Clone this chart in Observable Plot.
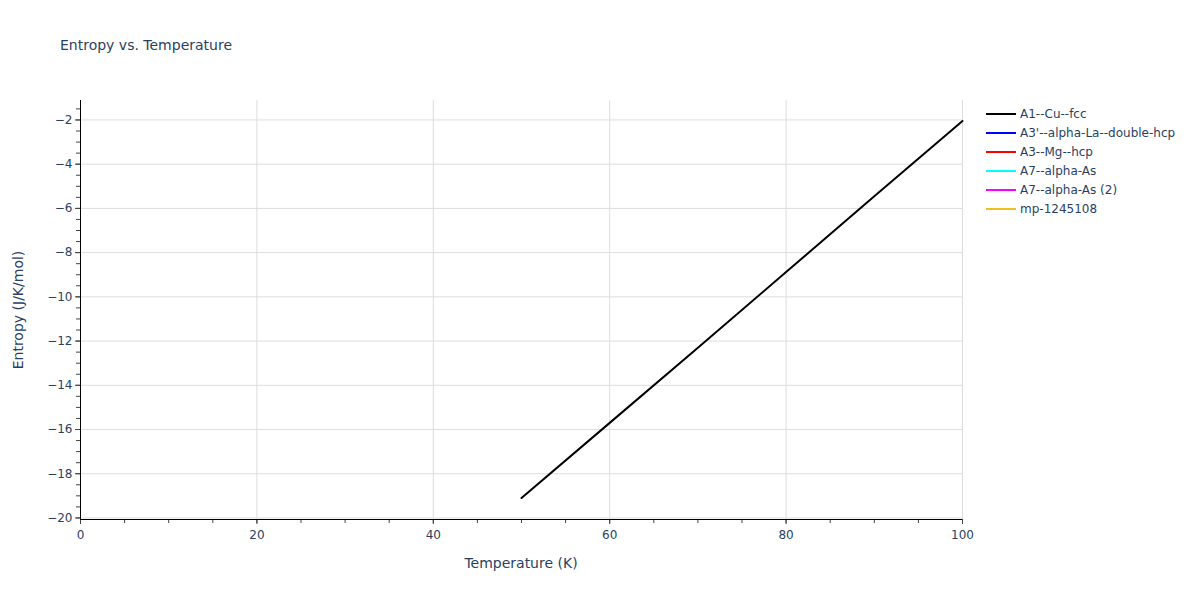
<!DOCTYPE html>
<html>
<head>
<meta charset="utf-8">
<script src="https://cdn.jsdelivr.net/npm/d3@7"></script>
<script src="https://cdn.jsdelivr.net/npm/@observablehq/plot@0.6"></script>
<style>
  html, body { margin: 0; padding: 0; background: #fff; }
  #chart { position: relative; width: 1200px; height: 600px; }
</style>
</head>
<body>
<div id="chart"></div>
<script>
// ---- data ----
const seriesNames = ["A1--Cu--fcc", "A3'--alpha-La--double-hcp", "A3--Mg--hcp", "A7--alpha-As", "A7--alpha-As (2)", "mp-1245108"];
const seriesColors = ["#000000", "#0000ff", "#ff0000", "#00ffff", "#ff00ff", "#f0c020"];
const temperature = [50, 60, 70, 80, 90, 100];
const entropyCu = [-19.1, -15.7, -12.3, -8.88, -5.45, -2.05];
const xTicks = [0, 20, 40, 60, 80, 100];
const xMinor = d3.range(0, 101, 5);
const yTicks = [-20, -18, -16, -14, -12, -10, -8, -6, -4, -2];
const yMinor = d3.range(-20, -1.4, 0.5);

const rows = temperature.map((t, i) => ({t, s: entropyCu[i], series: seriesNames[0]}));

const FONT = "'DejaVu Sans', Verdana, sans-serif";
const fmt = d3.format("");
const tickColor = "#2a3f5f";
const xDom = [0, 100];
const yDom = [-20.07, -1.12];

const plot = Plot.plot({
  width: 1200,
  height: 600,
  marginLeft: 80,
  marginRight: 238,
  marginTop: 100,
  marginBottom: 81,
  style: {fontFamily: FONT, fontSize: "12px", color: tickColor, background: "#fff"},
  x: {domain: xDom, label: null},
  y: {domain: yDom, label: null},
  color: {domain: seriesNames, range: seriesColors},
  marks: [
    Plot.gridX(xTicks, {stroke: "#dddddd", strokeOpacity: 1}),
    Plot.gridY(yTicks, {stroke: "#dddddd", strokeOpacity: 1}),
    Plot.axisX(xMinor, {tickSize: 4, tickFormat: () => "", stroke: "#444"}),
    Plot.axisX(xTicks, {tickSize: 5, tickPadding: 6, tickFormat: fmt, fontSize: 12, fill: tickColor, stroke: "#444"}),
    Plot.axisY(yMinor, {tickSize: 4, tickFormat: () => "", stroke: "#444"}),
    Plot.axisY(yTicks, {tickSize: 5, tickPadding: 3, tickFormat: fmt, fontSize: 12, fill: tickColor, stroke: "#444"}),
    Plot.ruleX([0], {stroke: "#000", strokeWidth: 1}),
    Plot.ruleY([yDom[0]], {stroke: "#000", strokeWidth: 1}),
    Plot.line(rows, {x: "t", y: "s", stroke: "series", strokeWidth: 2})
  ]
});

const svg = d3.select(plot);
// title
svg.append("text").attr("x", 60).attr("y", 50).attr("text-anchor", "start").attr("font-size", 14).attr("fill", "#2a3f5f").text("Entropy vs. Temperature");
// axis titles
svg.append("text").attr("x", 521).attr("y", 568).attr("text-anchor", "middle").attr("font-size", 14).attr("fill", "#2a3f5f").text("Temperature (K)");
svg.append("text").attr("transform", "translate(23,310) rotate(-90)").attr("text-anchor", "middle").attr("font-size", 14).attr("fill", "#2a3f5f").text("Entropy (J/K/mol)");
// legend
const leg = svg.append("g");
seriesNames.forEach((name, i) => {
  const y = 114 + i * 19;
  leg.append("line").attr("x1", 986).attr("x2", 1016).attr("y1", y).attr("y2", y).attr("stroke", seriesColors[i]).attr("stroke-width", 2);
  leg.append("text").attr("x", 1020).attr("y", y + 4).attr("text-anchor", "start").attr("font-size", 12).attr("fill", "#2a3f5f").text(name);
});

document.getElementById("chart").appendChild(plot);
</script>
</body>
</html>
